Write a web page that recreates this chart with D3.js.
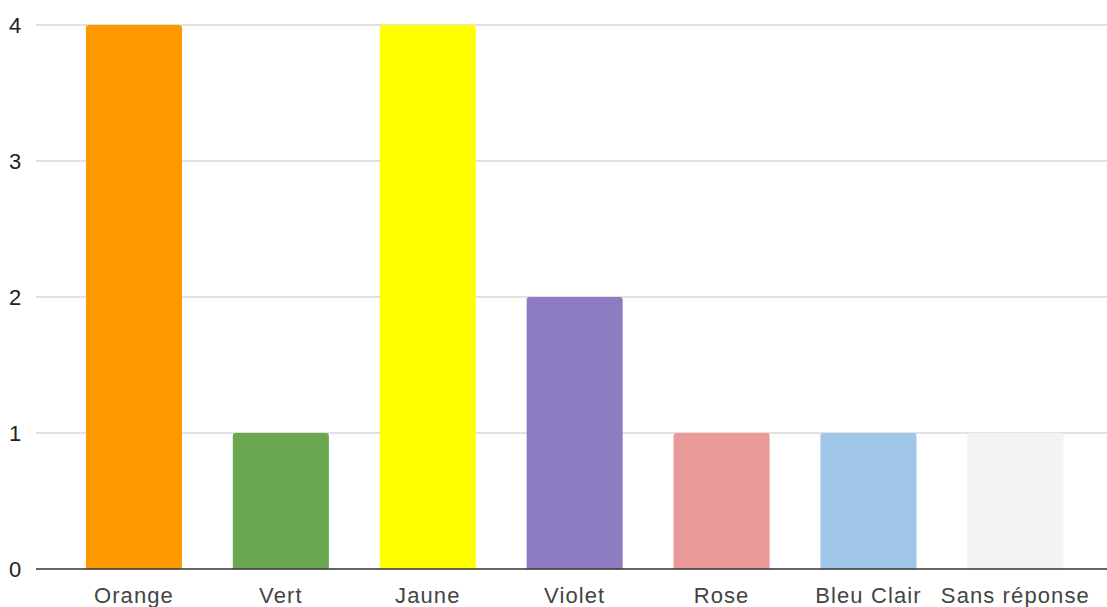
<!DOCTYPE html>
<html><head><meta charset="utf-8">
<script src="https://cdn.jsdelivr.net/npm/d3@7"></script>
<style>body{margin:0;background:#fff}svg{display:block}</style>
</head><body>
<svg id="c" width="1107" height="607"></svg>
<script>
const categories = ["Orange","Vert","Jaune","Violet","Rose","Bleu Clair","Sans réponse"];
const values = [4,1,4,2,1,1,1];
const colors = ["#ff9900","#6aa84f","#ffff00","#8e7cc3","#ea9999","#9fc5e8","#f3f3f3"];
const yTicks = [0,1,2,3,4];

const svg = d3.select("#c");
const x = d3.scaleBand().domain(categories).range([60.5,1088.8]).paddingInner(0.346).paddingOuter(0.173);
const y = d3.scaleLinear().domain([0,4]).range([569,25]);

svg.append("g").selectAll("line").data(yTicks.filter(d=>d>0)).join("line")
  .attr("x1",36).attr("x2",1107).attr("y1",d=>y(d)).attr("y2",d=>y(d))
  .attr("stroke","#d9d9d9").attr("stroke-width",1.5);

svg.append("g").selectAll("path").data(categories).join("path")
  .attr("fill",(d,i)=>colors[i])
  .attr("d",(d,i)=>{
    const x0=x(d), w=x.bandwidth(), y0=y(values[i]), b=y(0), r=3;
    return `M${x0},${b}V${y0+r}Q${x0},${y0} ${x0+r},${y0}H${x0+w-r}Q${x0+w},${y0} ${x0+w},${y0+r}V${b}Z`;
  });

svg.append("line").attr("x1",36).attr("x2",1107).attr("y1",y(0)).attr("y2",y(0))
  .attr("stroke","#333").attr("stroke-width",1.5);

const yAxis = svg.append("g").attr("transform","translate(15,0)")
  .call(d3.axisLeft(y).tickValues(yTicks).tickFormat(d3.format("d")).tickSize(0).tickPadding(0));
yAxis.select(".domain").remove();
yAxis.selectAll("text").attr("text-anchor","middle").attr("font-family","Liberation Sans, Arial, sans-serif").attr("font-size",22).attr("fill","#222");

const xAxis = svg.append("g").attr("transform",`translate(0,${y(0)})`)
  .call(d3.axisBottom(x).tickSize(0).tickPadding(0));
xAxis.select(".domain").remove();
xAxis.selectAll("text").attr("dy",null).attr("y",34).attr("font-family","Liberation Sans, Arial, sans-serif")
  .attr("font-size",22).attr("letter-spacing",1.1).attr("fill","#444");
</script>
</body></html>
